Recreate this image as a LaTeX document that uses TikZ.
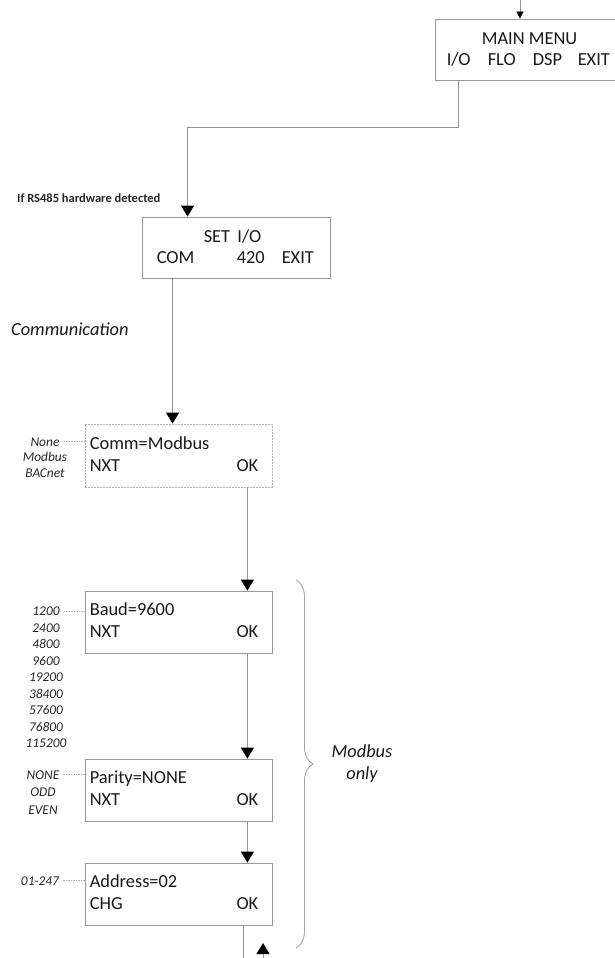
\documentclass[tikz,border=0pt]{standalone}
\usepackage{fontspec}
\setmainfont{Carlito}
\usetikzlibrary{arrows.meta}
\usetikzlibrary{calc,decorations.pathreplacing}

\tikzset{
  box/.style={draw=gray!80, line width=0.9pt, minimum width=187pt, minimum height=62pt, inner sep=0pt},
  txt/.style={inner sep=0pt, text=black!90, font=\fontsize{18.4}{20}\selectfont},
  opt/.style={inner sep=0pt, anchor=base, text=black!85, font=\fontsize{13.4}{14}\selectfont\itshape},
  flow/.style={draw=gray!85, line width=0.9pt, -{Triangle[width=13pt,length=11pt,color=black]}},
  leader/.style={draw=gray!60, line width=0.6pt, dash pattern=on 1.5pt off 1pt},
}

\begin{document}
\begin{tikzpicture}[x=1pt,y=-1pt]
    \useasboundingbox (0,0) rectangle (614,958);

		% menu boxes
		\node[box, minimum width=181pt, minimum height=61pt] (mainmenu) at (525.5,49.5) {};
		\node[box, minimum width=188pt, minimum height=61pt] (setio) at (236,247.5) {};
		\node[box, draw=gray!60, dash pattern=on 2pt off 1pt, minimum height=63pt] (comm) at (178.5,455.5) {};
		\node[box] (baud) at (178.5,622) {};
		\node[box] (parity) at (178.5,790) {};
		\node[box] (addr) at (178.5,894) {};

		% main menu
		\node[txt, anchor=base] (mmtitle) at ($(mainmenu.north west)+(95,26)$) {MAIN MENU};
		\node[txt, anchor=base west] (io) at ($(mainmenu.north west)+(12,47)$) {I/O};
		\node[txt, anchor=base west] (flo) at ($(mainmenu.north west)+(53,47)$) {FLO};
		\node[txt, anchor=base west] (dsp) at ($(mainmenu.north west)+(98,47)$) {DSP};
		\node[txt, anchor=base west] (mmexit) at ($(mainmenu.north west)+(143,47)$) {EXIT};

		% set i/o
		\node[txt, anchor=base] (siotitle) at ($(setio.north west)+(91,26)$) {SET\, I/O};
		\node[txt, anchor=base west] (com) at ($(setio.north west)+(15,47)$) {COM};
		\node[txt, anchor=base west] (ma) at ($(setio.north west)+(95,47)$) {420};
		\node[txt, anchor=base west] (sioexit) at ($(setio.north west)+(140,47)$) {EXIT};

		% parameter boxes
		\node[txt, anchor=base west] (commval) at ($(comm.north west)+(5,26)$) {Comm=Modbus};
		\node[txt, anchor=base west] (commnxt) at ($(comm.north west)+(5,48)$) {NXT};
		\node[txt, anchor=base east] (commok) at ($(comm.north east)+(-14,48)$) {OK};

		\node[txt, anchor=base west] (baudval) at ($(baud.north west)+(5,25)$) {Baud=9600};
		\node[txt, anchor=base west] (baudnxt) at ($(baud.north west)+(5,47)$) {NXT};
		\node[txt, anchor=base east] (baudok) at ($(baud.north east)+(-14,47)$) {OK};

		\node[txt, anchor=base west] (parval) at ($(parity.north west)+(5,25)$) {Parity=NONE};
		\node[txt, anchor=base west] (parnxt) at ($(parity.north west)+(5,47)$) {NXT};
		\node[txt, anchor=base east] (parok) at ($(parity.north east)+(-14,47)$) {OK};

		\node[txt, anchor=base west] (addrval) at ($(addr.north west)+(5,25)$) {Address=02};
		\node[txt, anchor=base west] (addrchg) at ($(addr.north west)+(5,47)$) {CHG};
		\node[txt, anchor=base east] (addrok) at ($(addr.north east)+(-14,47)$) {OK};

		% side notes
		\node[inner sep=0pt, anchor=base west, text=black!85, font=\fontsize{12.5}{13}\selectfont\bfseries] (rsnote) at (17,202) {If RS485 hardware detected};
		\node[txt, anchor=base west, font=\fontsize{18.4}{20}\selectfont\itshape] (commnote) at (11,335) {Communication};
		\node[txt, anchor=base, font=\fontsize{18.4}{20}\selectfont\itshape] (modbus) at (362,757) {Modbus};
		\node[txt, anchor=base, font=\fontsize{18.4}{20}\selectfont\itshape] (only) at (362,779) {only};

		% option lists
		\foreach \v [count=\i] in {None,Modbus,BACnet}
			\node[opt] (commopt\i) at ({45},{446+15.5*(\i-1)}) {\v};
		\foreach \v [count=\i] in {1200,2400,4800,9600,19200,38400,57600,76800,115200}
			\node[opt] (baudopt\i) at ({46},{615.5+16.5*(\i-1)}) {\v};
		\foreach \v [count=\i] in {NONE,ODD,EVEN}
			\node[opt] (paropt\i) at ({43},{779+17.5*(\i-1)}) {\v};
		\node[opt] (addropt) at (40,885) {01-247};

		\draw[leader] ($(commopt1.east)+(4,0)$) -- (commopt1.east -| comm.west);
		\draw[leader] ($(baudopt1.east)+(4,0)$) -- (baudopt1.east -| baud.west);
		\draw[leader] ($(paropt1.east)+(4,0)$) -- (paropt1.east -| parity.west);
		\draw[leader] ($(addropt.east)+(4,0)$) -- (addropt.east -| addr.west);

		% connectors
		\coordinate (entry) at (520,0);
		\draw[draw=gray!85, line width=0.9pt, -{Triangle[width=7pt,length=7pt,color=black]}] (entry) -- (entry |- mainmenu.north);
		\draw[flow] (io |- mainmenu.south) |- ($(setio.north west)+(46,-89)$) -- ($(setio.north west)+(46,0)$);
		\draw[flow] ($(setio.south west)+(31,0)$) -- ($(comm.north west)+(88,0)$);
		\draw[flow] (commok |- comm.south) -- (commok |- baud.north);
		\draw[flow] (baudok |- baud.south) -- (baudok |- parity.north);
		\draw[flow] (parok |- parity.south) -- (parok |- addr.north);

		\coordinate (addrout) at (243,958);
		\draw[draw=gray!85, line width=0.9pt] (addrout |- addr.south) -- (addrout);
		\coordinate (retin) at (263,958);
		\coordinate (rettip) at (263,943);
		\draw[flow] (retin) -- (rettip);

		% modbus brace
		\draw[draw=gray!70, line width=0.9pt, decorate, decoration={brace, amplitude=17pt}] (296,580) -- (296,948);

\end{tikzpicture}
\end{document}
